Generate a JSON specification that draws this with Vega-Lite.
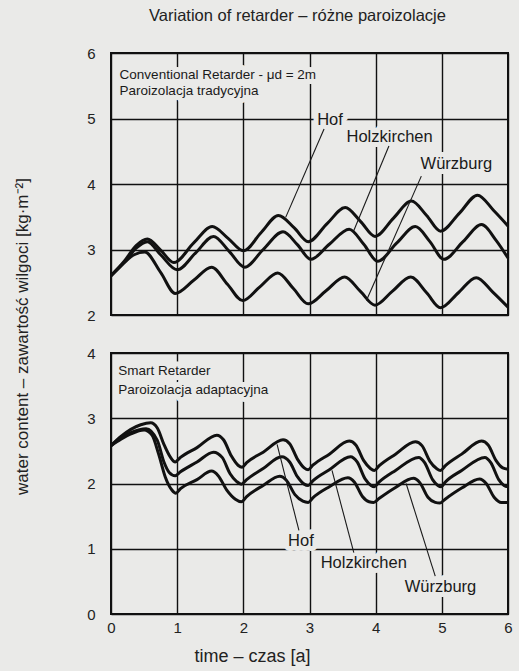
{
  "$schema": "https://vega.github.io/schema/vega-lite/v6.json",
  "background": "#eaeae8",
  "padding": {"left": 12, "top": 7, "right": 5, "bottom": 5},
  "title": {"text": "Variation of retarder – różne paroizolacje", "fontSize": 16.5, "font": "Liberation Sans", "fontWeight": "normal", "color": "#222", "anchor": "middle", "offset": 21, "dx": 34},
  "spacing": 38,
  "bounds": "flush",
  "datasets": {
    "conv": [
      {"city": "Hof", "t": 0.0, "w": 2.60}, {"city": "Hof", "t": 0.2, "w": 2.82}, {"city": "Hof", "t": 0.38, "w": 3.06}, {"city": "Hof", "t": 0.55, "w": 3.16},
      {"city": "Hof", "t": 0.75, "w": 2.99}, {"city": "Hof", "t": 0.95, "w": 2.80}, {"city": "Hof", "t": 1.25, "w": 3.10}, {"city": "Hof", "t": 1.53, "w": 3.35},
      {"city": "Hof", "t": 1.77, "w": 3.17}, {"city": "Hof", "t": 2.0, "w": 2.98}, {"city": "Hof", "t": 2.27, "w": 3.26}, {"city": "Hof", "t": 2.53, "w": 3.52},
      {"city": "Hof", "t": 2.77, "w": 3.33}, {"city": "Hof", "t": 2.98, "w": 3.12}, {"city": "Hof", "t": 3.27, "w": 3.40}, {"city": "Hof", "t": 3.54, "w": 3.64},
      {"city": "Hof", "t": 3.77, "w": 3.43}, {"city": "Hof", "t": 3.99, "w": 3.20}, {"city": "Hof", "t": 4.27, "w": 3.48}, {"city": "Hof", "t": 4.54, "w": 3.74},
      {"city": "Hof", "t": 4.77, "w": 3.52}, {"city": "Hof", "t": 4.98, "w": 3.28}, {"city": "Hof", "t": 5.27, "w": 3.56}, {"city": "Hof", "t": 5.54, "w": 3.83},
      {"city": "Hof", "t": 5.78, "w": 3.60}, {"city": "Hof", "t": 6.0, "w": 3.36},
      {"city": "Holzkirchen", "t": 0.0, "w": 2.60}, {"city": "Holzkirchen", "t": 0.2, "w": 2.80}, {"city": "Holzkirchen", "t": 0.38, "w": 3.02}, {"city": "Holzkirchen", "t": 0.55, "w": 3.12},
      {"city": "Holzkirchen", "t": 0.75, "w": 2.92}, {"city": "Holzkirchen", "t": 1.0, "w": 2.69}, {"city": "Holzkirchen", "t": 1.28, "w": 2.95}, {"city": "Holzkirchen", "t": 1.55, "w": 3.20},
      {"city": "Holzkirchen", "t": 1.78, "w": 2.98}, {"city": "Holzkirchen", "t": 2.02, "w": 2.73}, {"city": "Holzkirchen", "t": 2.3, "w": 3.00}, {"city": "Holzkirchen", "t": 2.6, "w": 3.27},
      {"city": "Holzkirchen", "t": 2.82, "w": 3.07}, {"city": "Holzkirchen", "t": 3.02, "w": 2.85}, {"city": "Holzkirchen", "t": 3.3, "w": 3.08}, {"city": "Holzkirchen", "t": 3.6, "w": 3.31},
      {"city": "Holzkirchen", "t": 3.82, "w": 3.08}, {"city": "Holzkirchen", "t": 4.03, "w": 2.82}, {"city": "Holzkirchen", "t": 4.32, "w": 3.10}, {"city": "Holzkirchen", "t": 4.6, "w": 3.35},
      {"city": "Holzkirchen", "t": 4.82, "w": 3.12}, {"city": "Holzkirchen", "t": 5.03, "w": 2.85}, {"city": "Holzkirchen", "t": 5.32, "w": 3.12}, {"city": "Holzkirchen", "t": 5.6, "w": 3.38},
      {"city": "Holzkirchen", "t": 5.82, "w": 3.14}, {"city": "Holzkirchen", "t": 6.0, "w": 2.87},
      {"city": "Würzburg", "t": 0.0, "w": 2.60}, {"city": "Würzburg", "t": 0.2, "w": 2.80}, {"city": "Würzburg", "t": 0.35, "w": 2.92}, {"city": "Würzburg", "t": 0.51, "w": 2.96},
      {"city": "Würzburg", "t": 0.75, "w": 2.65}, {"city": "Würzburg", "t": 0.97, "w": 2.33}, {"city": "Würzburg", "t": 1.25, "w": 2.53}, {"city": "Würzburg", "t": 1.52, "w": 2.73},
      {"city": "Würzburg", "t": 1.76, "w": 2.47}, {"city": "Würzburg", "t": 1.99, "w": 2.22}, {"city": "Würzburg", "t": 2.25, "w": 2.43}, {"city": "Würzburg", "t": 2.52, "w": 2.64},
      {"city": "Würzburg", "t": 2.76, "w": 2.40}, {"city": "Würzburg", "t": 2.98, "w": 2.17}, {"city": "Würzburg", "t": 3.25, "w": 2.37}, {"city": "Würzburg", "t": 3.53, "w": 2.58},
      {"city": "Würzburg", "t": 3.77, "w": 2.36}, {"city": "Würzburg", "t": 3.99, "w": 2.15}, {"city": "Würzburg", "t": 4.25, "w": 2.36}, {"city": "Würzburg", "t": 4.53, "w": 2.58},
      {"city": "Würzburg", "t": 4.77, "w": 2.34}, {"city": "Würzburg", "t": 4.98, "w": 2.11}, {"city": "Würzburg", "t": 5.25, "w": 2.34}, {"city": "Würzburg", "t": 5.52, "w": 2.57},
      {"city": "Würzburg", "t": 5.77, "w": 2.35}, {"city": "Würzburg", "t": 6.0, "w": 2.12}
    ],
    "smart": [
      {"city": "Hof", "t": 0.0, "w": 2.58}, {"city": "Hof", "t": 0.15, "w": 2.72}, {"city": "Hof", "t": 0.3, "w": 2.83}, {"city": "Hof", "t": 0.45, "w": 2.90}, {"city": "Hof", "t": 0.6, "w": 2.93},
      {"city": "Hof", "t": 0.7, "w": 2.85}, {"city": "Hof", "t": 0.8, "w": 2.60}, {"city": "Hof", "t": 0.9, "w": 2.40}, {"city": "Hof", "t": 0.97, "w": 2.33},
      {"city": "Hof", "t": 1.05, "w": 2.40}, {"city": "Hof", "t": 1.3, "w": 2.55}, {"city": "Hof", "t": 1.6, "w": 2.74}, {"city": "Hof", "t": 1.7, "w": 2.67},
      {"city": "Hof", "t": 1.82, "w": 2.42}, {"city": "Hof", "t": 1.92, "w": 2.28}, {"city": "Hof", "t": 1.98, "w": 2.25},
      {"city": "Hof", "t": 2.05, "w": 2.32}, {"city": "Hof", "t": 2.3, "w": 2.48}, {"city": "Hof", "t": 2.6, "w": 2.67}, {"city": "Hof", "t": 2.7, "w": 2.61},
      {"city": "Hof", "t": 2.82, "w": 2.37}, {"city": "Hof", "t": 2.92, "w": 2.24}, {"city": "Hof", "t": 2.98, "w": 2.21},
      {"city": "Hof", "t": 3.05, "w": 2.28}, {"city": "Hof", "t": 3.3, "w": 2.45}, {"city": "Hof", "t": 3.6, "w": 2.65}, {"city": "Hof", "t": 3.7, "w": 2.59},
      {"city": "Hof", "t": 3.82, "w": 2.35}, {"city": "Hof", "t": 3.92, "w": 2.23}, {"city": "Hof", "t": 3.98, "w": 2.20},
      {"city": "Hof", "t": 4.05, "w": 2.27}, {"city": "Hof", "t": 4.3, "w": 2.45}, {"city": "Hof", "t": 4.6, "w": 2.64}, {"city": "Hof", "t": 4.7, "w": 2.58},
      {"city": "Hof", "t": 4.82, "w": 2.34}, {"city": "Hof", "t": 4.92, "w": 2.23}, {"city": "Hof", "t": 4.98, "w": 2.20},
      {"city": "Hof", "t": 5.05, "w": 2.27}, {"city": "Hof", "t": 5.3, "w": 2.45}, {"city": "Hof", "t": 5.6, "w": 2.65}, {"city": "Hof", "t": 5.7, "w": 2.59},
      {"city": "Hof", "t": 5.82, "w": 2.35}, {"city": "Hof", "t": 5.92, "w": 2.24}, {"city": "Hof", "t": 6.0, "w": 2.22},
      {"city": "Holzkirchen", "t": 0.0, "w": 2.58}, {"city": "Holzkirchen", "t": 0.15, "w": 2.70}, {"city": "Holzkirchen", "t": 0.3, "w": 2.78}, {"city": "Holzkirchen", "t": 0.53, "w": 2.84},
      {"city": "Holzkirchen", "t": 0.7, "w": 2.66}, {"city": "Holzkirchen", "t": 0.8, "w": 2.33}, {"city": "Holzkirchen", "t": 0.88, "w": 2.17}, {"city": "Holzkirchen", "t": 0.97, "w": 2.12},
      {"city": "Holzkirchen", "t": 1.05, "w": 2.18}, {"city": "Holzkirchen", "t": 1.3, "w": 2.33}, {"city": "Holzkirchen", "t": 1.55, "w": 2.48}, {"city": "Holzkirchen", "t": 1.68, "w": 2.40},
      {"city": "Holzkirchen", "t": 1.8, "w": 2.15}, {"city": "Holzkirchen", "t": 1.9, "w": 2.03}, {"city": "Holzkirchen", "t": 1.97, "w": 1.99},
      {"city": "Holzkirchen", "t": 2.05, "w": 2.06}, {"city": "Holzkirchen", "t": 2.3, "w": 2.23}, {"city": "Holzkirchen", "t": 2.58, "w": 2.41}, {"city": "Holzkirchen", "t": 2.7, "w": 2.33},
      {"city": "Holzkirchen", "t": 2.82, "w": 2.10}, {"city": "Holzkirchen", "t": 2.92, "w": 1.99}, {"city": "Holzkirchen", "t": 2.98, "w": 1.97},
      {"city": "Holzkirchen", "t": 3.05, "w": 2.04}, {"city": "Holzkirchen", "t": 3.3, "w": 2.21}, {"city": "Holzkirchen", "t": 3.62, "w": 2.41}, {"city": "Holzkirchen", "t": 3.72, "w": 2.33},
      {"city": "Holzkirchen", "t": 3.84, "w": 2.07}, {"city": "Holzkirchen", "t": 3.93, "w": 1.97}, {"city": "Holzkirchen", "t": 3.98, "w": 1.95},
      {"city": "Holzkirchen", "t": 4.05, "w": 2.02}, {"city": "Holzkirchen", "t": 4.3, "w": 2.20}, {"city": "Holzkirchen", "t": 4.65, "w": 2.40}, {"city": "Holzkirchen", "t": 4.74, "w": 2.32},
      {"city": "Holzkirchen", "t": 4.86, "w": 2.06}, {"city": "Holzkirchen", "t": 4.94, "w": 1.97}, {"city": "Holzkirchen", "t": 4.99, "w": 1.95},
      {"city": "Holzkirchen", "t": 5.05, "w": 2.02}, {"city": "Holzkirchen", "t": 5.3, "w": 2.20}, {"city": "Holzkirchen", "t": 5.65, "w": 2.40}, {"city": "Holzkirchen", "t": 5.74, "w": 2.32},
      {"city": "Holzkirchen", "t": 5.86, "w": 2.06}, {"city": "Holzkirchen", "t": 5.94, "w": 1.97}, {"city": "Holzkirchen", "t": 6.0, "w": 1.95},
      {"city": "Würzburg", "t": 0.0, "w": 2.58}, {"city": "Würzburg", "t": 0.15, "w": 2.68}, {"city": "Würzburg", "t": 0.3, "w": 2.76}, {"city": "Würzburg", "t": 0.5, "w": 2.82},
      {"city": "Würzburg", "t": 0.62, "w": 2.74}, {"city": "Würzburg", "t": 0.72, "w": 2.45}, {"city": "Würzburg", "t": 0.82, "w": 2.10}, {"city": "Würzburg", "t": 0.92, "w": 1.90}, {"city": "Würzburg", "t": 0.98, "w": 1.85},
      {"city": "Würzburg", "t": 1.05, "w": 1.92}, {"city": "Würzburg", "t": 1.3, "w": 2.06}, {"city": "Würzburg", "t": 1.52, "w": 2.19}, {"city": "Würzburg", "t": 1.62, "w": 2.12},
      {"city": "Würzburg", "t": 1.75, "w": 1.90}, {"city": "Würzburg", "t": 1.88, "w": 1.76}, {"city": "Würzburg", "t": 1.97, "w": 1.72},
      {"city": "Würzburg", "t": 2.05, "w": 1.80}, {"city": "Würzburg", "t": 2.3, "w": 1.97}, {"city": "Würzburg", "t": 2.55, "w": 2.11}, {"city": "Würzburg", "t": 2.65, "w": 2.05},
      {"city": "Würzburg", "t": 2.78, "w": 1.83}, {"city": "Würzburg", "t": 2.9, "w": 1.73}, {"city": "Würzburg", "t": 2.98, "w": 1.71},
      {"city": "Würzburg", "t": 3.05, "w": 1.78}, {"city": "Würzburg", "t": 3.3, "w": 1.95}, {"city": "Würzburg", "t": 3.58, "w": 2.09}, {"city": "Würzburg", "t": 3.68, "w": 2.02},
      {"city": "Würzburg", "t": 3.8, "w": 1.80}, {"city": "Würzburg", "t": 3.9, "w": 1.72}, {"city": "Würzburg", "t": 3.97, "w": 1.71},
      {"city": "Würzburg", "t": 4.05, "w": 1.77}, {"city": "Würzburg", "t": 4.3, "w": 1.94}, {"city": "Würzburg", "t": 4.57, "w": 2.08}, {"city": "Würzburg", "t": 4.67, "w": 2.01},
      {"city": "Würzburg", "t": 4.79, "w": 1.79}, {"city": "Würzburg", "t": 4.9, "w": 1.71}, {"city": "Würzburg", "t": 4.97, "w": 1.70},
      {"city": "Würzburg", "t": 5.05, "w": 1.76}, {"city": "Würzburg", "t": 5.3, "w": 1.93}, {"city": "Würzburg", "t": 5.57, "w": 2.07}, {"city": "Würzburg", "t": 5.67, "w": 2.00},
      {"city": "Würzburg", "t": 5.79, "w": 1.79}, {"city": "Würzburg", "t": 5.9, "w": 1.71}, {"city": "Würzburg", "t": 6.0, "w": 1.71}
    ],
    "convNotes": [
      {"label": "Conventional Retarder - μd = 2m", "x": 0.13, "y": 5.67},
      {"label": "Paroizolacja tradycyjna", "x": 0.13, "y": 5.42}
    ],
    "smartNotes": [
      {"label": "Smart Retarder", "x": 0.11, "y": 3.72},
      {"label": "Paroizolacja adaptacyjna", "x": 0.11, "y": 3.44}
    ],
    "convLabels": [
      {"label": "Hof", "x": 3.31, "y": 4.97},
      {"label": "Holzkirchen", "x": 4.21, "y": 4.72},
      {"label": "Würzburg", "x": 5.22, "y": 4.31}
    ],
    "smartLabels": [
      {"label": "Hof", "x": 2.87, "y": 1.12},
      {"label": "Holzkirchen", "x": 3.82, "y": 0.78},
      {"label": "Würzburg", "x": 4.98, "y": 0.42}
    ],
    "convPointers": [
      {"x": 3.22, "y": 4.84, "x2": 2.64, "y2": 3.49},
      {"x": 4.2, "y": 4.58, "x2": 3.67, "y2": 3.29},
      {"x": 4.69, "y": 4.12, "x2": 3.86, "y2": 2.22}
    ],
    "smartPointers": [
      {"x": 2.84, "y": 1.28, "x2": 2.51, "y2": 2.6},
      {"x": 3.67, "y": 0.94, "x2": 3.34, "y2": 2.2},
      {"x": 4.9, "y": 0.58, "x2": 4.46, "y2": 2.0}
    ]
  },
  "vconcat": [
    {
      "width": 397,
      "height": 262,
      "layer": [
        {
          "data": {"name": "conv"},
          "mark": {"type": "line", "color": "#111", "strokeWidth": 3, "interpolate": "monotone"},
          "encoding": {
            "x": {"field": "t", "type": "quantitative", "scale": {"domain": [0, 6], "nice": false},
                  "axis": {"values": [0, 1, 2, 3, 4, 5, 6], "labels": false, "title": null}},
            "y": {"field": "w", "type": "quantitative", "scale": {"domain": [2, 6], "nice": false},
                  "axis": {"values": [2, 3, 4, 5, 6], "format": "d", "labelPadding": 16,
                           "title": "water content – zawartość wilgoci [kg·m⁻²]", "titleFontSize": 17, "titleX": -89, "titleY": 283, "titleAngle": -90, "titleBaseline": "middle", "titleAlign": "center"}},
            "detail": {"field": "city", "type": "nominal"}
          }
        },
        {
          "data": {"name": "convNotes"},
          "mark": {"type": "text", "align": "left", "baseline": "middle", "fontSize": 13.5, "font": "Liberation Sans", "fill": "#eaeae8", "stroke": "#eaeae8", "strokeWidth": 10, "strokeJoin": "round"},
          "encoding": {"x": {"field": "x", "type": "quantitative"}, "y": {"field": "y", "type": "quantitative"}, "text": {"field": "label"}}
        },
        {
          "data": {"name": "convLabels"},
          "mark": {"type": "text", "align": "center", "baseline": "middle", "fontSize": 16.5, "font": "Liberation Sans", "fill": "#eaeae8", "stroke": "#eaeae8", "strokeWidth": 10, "strokeJoin": "round"},
          "encoding": {"x": {"field": "x", "type": "quantitative"}, "y": {"field": "y", "type": "quantitative"}, "text": {"field": "label"}}
        },
        {
          "data": {"name": "convNotes"},
          "mark": {"type": "text", "align": "left", "baseline": "middle", "fontSize": 13.5, "font": "Liberation Sans", "color": "#1a1a1a"},
          "encoding": {"x": {"field": "x", "type": "quantitative"}, "y": {"field": "y", "type": "quantitative"}, "text": {"field": "label"}}
        },
        {
          "data": {"name": "convLabels"},
          "mark": {"type": "text", "align": "center", "baseline": "middle", "fontSize": 16.5, "font": "Liberation Sans", "color": "#1a1a1a"},
          "encoding": {"x": {"field": "x", "type": "quantitative"}, "y": {"field": "y", "type": "quantitative"}, "text": {"field": "label"}}
        },
        {
          "data": {"name": "convPointers"},
          "mark": {"type": "rule", "color": "#1a1a1a", "strokeWidth": 1.1},
          "encoding": {"x": {"field": "x", "type": "quantitative"}, "y": {"field": "y", "type": "quantitative"}, "x2": {"field": "x2"}, "y2": {"field": "y2"}}
        }
      ]
    },
    {
      "width": 397,
      "height": 261,
      "layer": [
        {
          "data": {"name": "smart"},
          "mark": {"type": "line", "color": "#111", "strokeWidth": 3, "interpolate": "monotone"},
          "encoding": {
            "x": {"field": "t", "type": "quantitative", "scale": {"domain": [0, 6], "nice": false},
                  "axis": {"values": [0, 1, 2, 3, 4, 5, 6], "format": "d", "labelPadding": 6, "labelFlush": false, "title": "time – czas [a]", "titleFontSize": 18, "titleX": 141, "titlePadding": 12}},
            "y": {"field": "w", "type": "quantitative", "scale": {"domain": [0, 4], "nice": false},
                  "axis": {"values": [0, 1, 2, 3, 4], "format": "d", "labelPadding": 16, "title": null}},
            "detail": {"field": "city", "type": "nominal"}
          }
        },
        {
          "data": {"name": "smartNotes"},
          "mark": {"type": "text", "align": "left", "baseline": "middle", "fontSize": 13.5, "font": "Liberation Sans", "fill": "#eaeae8", "stroke": "#eaeae8", "strokeWidth": 10, "strokeJoin": "round"},
          "encoding": {"x": {"field": "x", "type": "quantitative"}, "y": {"field": "y", "type": "quantitative"}, "text": {"field": "label"}}
        },
        {
          "data": {"name": "smartLabels"},
          "mark": {"type": "text", "align": "center", "baseline": "middle", "fontSize": 16.5, "font": "Liberation Sans", "fill": "#eaeae8", "stroke": "#eaeae8", "strokeWidth": 10, "strokeJoin": "round"},
          "encoding": {"x": {"field": "x", "type": "quantitative"}, "y": {"field": "y", "type": "quantitative"}, "text": {"field": "label"}}
        },
        {
          "data": {"name": "smartNotes"},
          "mark": {"type": "text", "align": "left", "baseline": "middle", "fontSize": 13.5, "font": "Liberation Sans", "color": "#1a1a1a"},
          "encoding": {"x": {"field": "x", "type": "quantitative"}, "y": {"field": "y", "type": "quantitative"}, "text": {"field": "label"}}
        },
        {
          "data": {"name": "smartLabels"},
          "mark": {"type": "text", "align": "center", "baseline": "middle", "fontSize": 16.5, "font": "Liberation Sans", "color": "#1a1a1a"},
          "encoding": {"x": {"field": "x", "type": "quantitative"}, "y": {"field": "y", "type": "quantitative"}, "text": {"field": "label"}}
        },
        {
          "data": {"name": "smartPointers"},
          "mark": {"type": "rule", "color": "#1a1a1a", "strokeWidth": 1.1},
          "encoding": {"x": {"field": "x", "type": "quantitative"}, "y": {"field": "y", "type": "quantitative"}, "x2": {"field": "x2"}, "y2": {"field": "y2"}}
        }
      ]
    }
  ],
  "config": {
    "font": "Liberation Sans",
    "view": {"stroke": "#111", "strokeWidth": 2},
    "axis": {
      "grid": true, "gridColor": "#111", "gridWidth": 1.4, "gridOpacity": 1,
      "domain": false, "ticks": false,
      "labelFont": "Liberation Sans", "labelFontSize": 15, "labelColor": "#222",
      "titleFont": "Liberation Sans", "titleFontSize": 17, "titleFontWeight": "normal", "titleColor": "#222"
    }
  }
}
